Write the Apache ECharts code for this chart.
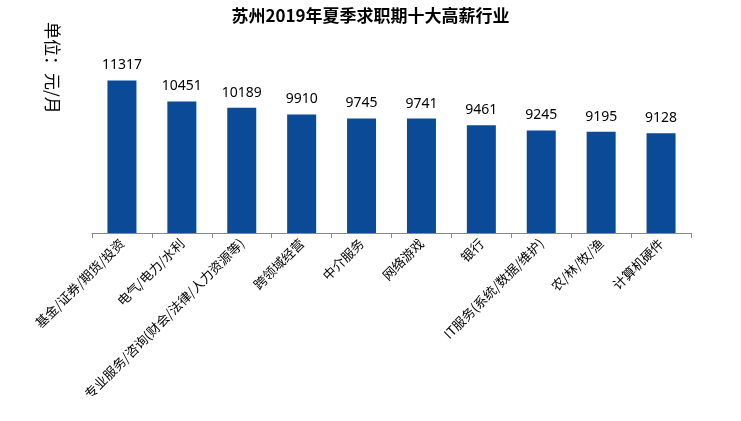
<!DOCTYPE html>
<html><head><meta charset="utf-8">
<script src="https://cdn.jsdelivr.net/npm/echarts@6/dist/echarts.min.js"></script>
<style>html,body{margin:0;background:#fff}#c{width:741px;height:421px}</style>
</head><body><div id="c"></div>
<script>
const categories=['基金/证券/期货/投资','电气/电力/水利','专业服务/咨询(财会/法律/人力资源等)','跨领域经营','中介服务','网络游戏','银行','IT服务(系统/数据/维护)','农/林/牧/渔','计算机硬件'];
const salaries=[11317,10451,10189,9910,9745,9741,9461,9245,9195,9128];
const titleText='苏州2019年夏季求职期十大高薪行业';
const unitText='单位：元/月';
const chart=echarts.init(document.getElementById('c'));
chart.setOption({
 animation:false,
 title:{text:titleText,left:'center',top:2,textStyle:{fontFamily:'Noto Sans CJK SC',fontSize:17,fontWeight:'bold',color:'#000'}},
 graphic:[{type:'text',left:44,top:22,style:{text:unitText,font:'17px "Noto Sans CJK SC"',fill:'#000'},rotation:-Math.PI/2}],
 grid:{left:92,right:50,top:64,bottom:188},
 xAxis:{type:'category',data:categories,axisLine:{lineStyle:{color:'#888'}},axisTick:{show:true,lineStyle:{color:'#888'}},
  axisLabel:{rotate:45,interval:0,fontFamily:'Noto Sans CJK SC',fontSize:13,color:'#000',margin:8}},
 yAxis:{type:'value',min:5000,max:12000,show:false},
 series:[{type:'bar',data:salaries,barWidth:29,itemStyle:{color:'#0a4a97'},
  label:{show:true,position:'top',distance:8,fontFamily:'Noto Sans',fontSize:14,color:'#000'}}]
});
</script></body></html>
